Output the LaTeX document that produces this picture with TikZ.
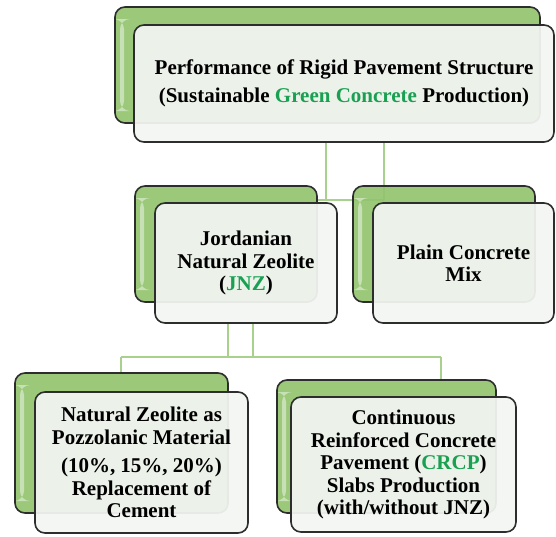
\documentclass[tikz,border=0pt]{standalone}
\usepackage{fontspec}
\setmainfont{Liberation Serif}
\usepackage{tikz}
\usetikzlibrary{positioning,backgrounds}

\definecolor{boxgreen}{RGB}{146,196,110}
\definecolor{linkgreen}{RGB}{169,209,142}
\definecolor{txtgreen}{RGB}{26,160,82}
\definecolor{paper}{RGB}{242,245,241}
\definecolor{edge}{RGB}{45,45,45}

\tikzset{
  backbox/.style={draw=edge, line width=1.6pt, rounded corners=10pt, fill=boxgreen, fill opacity=0.92,
    path picture={\fill[white,opacity=0.45] ([xshift=5pt,yshift=-12pt]path picture bounding box.north west)
      rectangle ([xshift=9pt,yshift=12pt]path picture bounding box.south west);}},
  frontbox/.style={draw=edge, line width=1.6pt, rounded corners=10pt, fill=paper, fill opacity=0.94,
    text opacity=1, align=center, font=\fontsize{21}{22.5}\selectfont\bfseries},
  link/.style={draw=linkgreen, line width=2.2pt}
}
\newcommand{\gtxt}[1]{\textcolor{txtgreen}{#1}}

\begin{document}
\begin{tikzpicture}[x=1pt,y=-1pt]
\useasboundingbox (0,0) rectangle (556,536);

% top
\node[backbox, minimum width=425pt, minimum height=116pt] (topb) at (327.5,65) {};
\node[frontbox, minimum width=420pt, minimum height=117pt] (top) at (344,83.5)
  {Performance of Rigid Pavement Structure\\[5.5pt] (Sustainable \gtxt{Green Concrete} Production)};

% middle row
\node[backbox, minimum width=182pt, minimum height=116pt] (mlb) at (226,244) {};
\node[frontbox, minimum width=182pt, minimum height=120pt] (ml) at (246,263)
  {Jordanian\\ Natural Zeolite\\ (\gtxt{JNZ})};
\node[backbox, minimum width=182pt, minimum height=116pt] (mrb) at (444,244) {};
\node[frontbox, minimum width=181pt, minimum height=120pt] (mr) at (463.5,263)
  {Plain Concrete\\ Mix};

% bottom row
\node[backbox, minimum width=213pt, minimum height=140pt] (blb) at (121.5,443) {};
\node[frontbox, minimum width=213pt, minimum height=141pt] (bl) at (141.5,462.5)
  {Natural Zeolite as\\ Pozzolanic Material\\[6pt] (10\%, 15\%, 20\%)\\ Replacement of\\ Cement};
\node[backbox, minimum width=219pt, minimum height=133pt] (brb) at (386.5,446.5) {};
\node[frontbox, minimum width=225pt, minimum height=135pt] (br) at (403.5,464.5)
  {Continuous\\ Reinforced Concrete\\ Pavement (\gtxt{CRCP})\\ Slabs Production\\ (with/without JNZ)};

\coordinate (ja) at (326,200);
\coordinate (jb) at (384,200);
\coordinate (jc) at (228,357);
\coordinate (jd) at (253,357);
\coordinate (je) at (121,357);
\coordinate (jf) at (441,357);

\begin{scope}[on background layer]
\draw[link] (top.south -| ja) -- (ja) (top.south -| jb) -- (jb) (mlb.east |- ja) -- (jb);
\draw[link] (ml.south -| jc) -- (jc) (ml.south -| jd) -- (jd) (je) -- (jf);
\draw[link] (je) -- (je |- blb.north) (jf) -- (jf |- brb.north);
\end{scope}
\end{tikzpicture}
\end{document}
